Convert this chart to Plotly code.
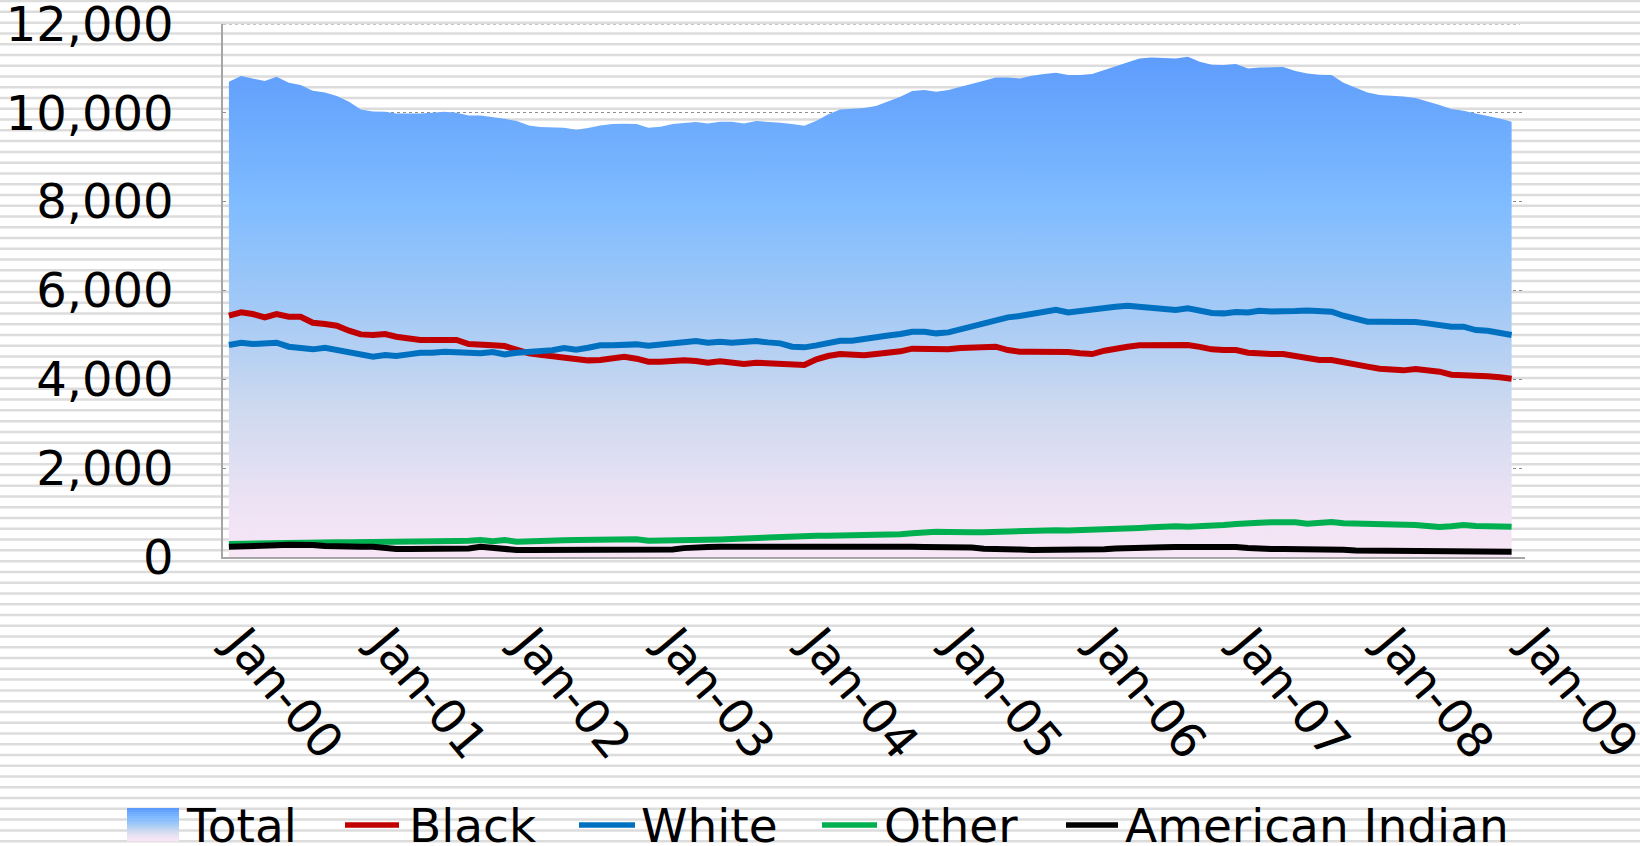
import pandas as pd
import plotly.graph_objects as go
from plotly.colors import sample_colorscale

months = pd.date_range("2000-01-01", periods=108, freq="MS")

total = [
    10700, 10827, 10775, 10715, 10813, 10677, 10625, 10497, 10460, 10377,
    10250, 10077, 10032, 10025, 9987, 9979, 9987, 10002, 10025, 10002,
    9942, 9942, 9912, 9867, 9814, 9717, 9679, 9680, 9664, 9619,
    9657, 9717, 9747, 9755, 9747, 9664, 9687, 9747, 9769, 9792,
    9762, 9800, 9800, 9762, 9815, 9800, 9777, 9747, 9709, 9822,
    9965, 10077, 10092, 10107, 10152, 10255, 10362, 10490, 10512, 10475,
    10512, 10587, 10647, 10722, 10797, 10797, 10775, 10835, 10872, 10902,
    10850, 10850, 10872, 10962, 11052, 11150, 11225, 11247, 11240, 11225,
    11262, 11150, 11080, 11075, 11097, 11000, 11022, 11030, 11030, 10940,
    10887, 10857, 10850, 10677, 10565, 10460, 10400, 10385, 10370, 10332,
    10257, 10175, 10085, 10047, 9987, 9935, 9875, 9800,
]

black = [
    5432, 5507, 5470, 5395, 5470, 5410, 5410, 5275, 5245, 5207,
    5095, 5012, 4997, 5020, 4960, 4922, 4885, 4885, 4885, 4885,
    4795, 4795, 4765, 4750, 4675, 4585, 4555, 4520, 4487, 4450,
    4427, 4435, 4480, 4510, 4465, 4397, 4397, 4427, 4427, 4412,
    4375, 4405, 4382, 4345, 4375, 4367, 4360, 4345, 4322, 4450,
    4525, 4570, 4547, 4540, 4570, 4590, 4630, 4690, 4690, 4660,
    4675, 4705, 4720, 4705, 4735, 4660, 4622, 4622, 4630, 4637,
    4615, 4585, 4570, 4645, 4697, 4735, 4765, 4765, 4742, 4742,
    4772, 4730, 4675, 4660, 4660, 4600, 4570, 4570, 4570, 4525,
    4450, 4435, 4435, 4375, 4330, 4285, 4240, 4232, 4202, 4232,
    4210, 4172, 4105, 4097, 4097, 4067, 4045, 4015,
]

white = [
    4772, 4825, 4795, 4795, 4825, 4735, 4697, 4675, 4712, 4660,
    4607, 4532, 4510, 4547, 4525, 4562, 4600, 4600, 4622, 4607,
    4585, 4585, 4615, 4562, 4600, 4615, 4622, 4655, 4705, 4667,
    4712, 4765, 4765, 4780, 4787, 4757, 4780, 4802, 4810, 4862,
    4825, 4847, 4825, 4832, 4862, 4832, 4810, 4735, 4720, 4765,
    4825, 4870, 4870, 4915, 4967, 4985, 5020, 5072, 5072, 5035,
    5057, 5125, 5185, 5260, 5350, 5395, 5425, 5470, 5522, 5567,
    5507, 5545, 5567, 5605, 5635, 5657, 5635, 5590, 5575, 5560,
    5597, 5545, 5495, 5485, 5515, 5507, 5545, 5530, 5522, 5537,
    5552, 5530, 5522, 5432, 5350, 5297, 5297, 5297, 5320, 5290,
    5260, 5207, 5185, 5185, 5110, 5095, 5050, 4997,
]

other = [
    293, 300, 300, 308, 315, 330, 338, 323, 323, 330,
    330, 330, 330, 338, 345, 353, 360, 360, 360, 360,
    368, 383, 353, 383, 345, 345, 353, 375, 375, 383,
    383, 398, 405, 405, 398, 368, 368, 375, 375, 380,
    390, 395, 405, 420, 425, 430, 445, 460, 475, 480,
    478, 482, 485, 480, 488, 500, 515, 535, 560, 570,
    565, 550, 555, 560, 570, 560, 575, 585, 590, 605,
    595, 600, 615, 625, 620, 640, 655, 670, 685, 690,
    680, 683, 698, 720, 743, 773, 773, 780, 788, 780,
    750, 780, 788, 758, 750, 750, 750, 758, 750, 720,
    698, 675, 690, 720, 698, 683, 683, 683,
]

american_indian = [
    233, 233, 240, 255, 263, 275, 278, 270, 250, 235,
    233, 233, 230, 200, 180, 180, 180, 180, 180, 180,
    190, 230, 200, 165, 158, 158, 158, 158, 158, 158,
    158, 158, 158, 158, 158, 158, 158, 170, 200, 222,
    225, 228, 230, 232, 235, 235, 236, 235, 233, 232,
    232, 230, 230, 232, 233, 232, 230, 228, 225, 226,
    224, 222, 215, 185, 170, 170, 168, 160, 158, 158,
    160, 162, 165, 175, 190, 205, 210, 215, 220, 225,
    230, 233, 230, 228, 225, 205, 185, 180, 180, 180,
    180, 180, 180, 165, 145, 145, 145, 145, 145, 145,
    145, 145, 145, 145, 145, 120, 120, 120,
]

year_ticks = pd.date_range("2000-01-01", "2009-01-01", freq="YS")
year_labels = [d.strftime("%b-%y") for d in year_ticks]
y_ticks = [0, 2000, 4000, 6000, 8000, 10000, 12000]

FONT = "DejaVu Sans"
W, H = 1640, 846
PL, PR, PT, PB = 223, 1525, 24, 557

# pixel -> paper helpers for the decoration / legend
def px_x(x):
    return (x - PL) / (PR - PL)

def px_y(y):
    return (PB - y) / (PB - PT)

area_scale = [
    [0.0, "#f8e6f6"],
    [0.12, "#ebe2f4"],
    [0.3, "#cdd9ef"],
    [0.5, "#a2c9f6"],
    [0.7, "#80bcff"],
    [1.0, "#5d9cfc"],
]

fig = go.Figure()

fig.add_trace(go.Scatter(
    x=months, y=total, name="Total", mode="lines",
    line=dict(width=0, color="#6aa6fc"),
    fill="tozeroy",
    fillgradient=dict(type="vertical", start=0, stop=11300, colorscale=area_scale),
))

series = [
    ("Black", black, "#c00000"),
    ("White", white, "#0070c0"),
    ("Other", other, "#00b050"),
    ("American Indian", american_indian, "#000000"),
]
for name, vals, col in series:
    fig.add_trace(go.Scatter(
        x=months, y=vals, name=name, mode="lines",
        line=dict(color=col, width=6),
    ))

shapes = []
# lined-paper background stripes across the whole picture
for k in range(80):
    ypx = 1.1 + 10.77 * k
    shapes.append(dict(
        type="line", xref="paper", yref="paper",
        x0=px_x(-10), x1=px_x(W + 10), y0=px_y(ypx), y1=px_y(ypx),
        line=dict(color="#dcdcdc", width=2.5), layer="below",
    ))
# top dotted gridline (plotly drops the one sitting on the plot edge)
shapes.append(dict(
    type="line", xref="paper", yref="y", x0=0, x1=px_x(1520), y0=12000, y1=12000,
    line=dict(color="#8c8c8c", width=1, dash="dot"), layer="below",
))

# hand-built legend
annotations = []
leg_y = 825
sw_top, sw_bot, n_sw = 808, 841, 16
sw_cols = sample_colorscale(area_scale, [1 - i / (n_sw - 1) for i in range(n_sw)])
step = (sw_bot - sw_top) / n_sw
for i, c in enumerate(sw_cols):
    shapes.append(dict(
        type="rect", xref="paper", yref="paper",
        x0=px_x(127), x1=px_x(179),
        y0=px_y(sw_top + i * step), y1=px_y(sw_top + (i + 1) * step + 0.5),
        fillcolor=c, line=dict(width=0), layer="above",
    ))
annotations.append(dict(
    text="Total", x=px_x(184), y=px_y(leg_y), xref="paper", yref="paper",
    xanchor="left", yanchor="middle", showarrow=False,
    font=dict(family=FONT, size=47, color="black"),
))
leg_items = [
    ("Black", "#c00000", 345, 399, 407),
    ("White", "#0070c0", 579, 635, 639),
    ("Other", "#00b050", 822, 877, 882),
    ("American Indian", "#000000", 1066, 1118, 1123),
]
for name, col, l0, l1, tx in leg_items:
    shapes.append(dict(
        type="line", xref="paper", yref="paper",
        x0=px_x(l0), x1=px_x(l1), y0=px_y(leg_y), y1=px_y(leg_y),
        line=dict(color=col, width=5.5), layer="above",
    ))
    annotations.append(dict(
        text=name, x=px_x(tx), y=px_y(leg_y), xref="paper", yref="paper",
        xanchor="left", yanchor="middle", showarrow=False,
        font=dict(family=FONT, size=47, color="black"),
    ))

fig.update_layout(
    width=W, height=H,
    margin=dict(l=PL, r=W - PR, t=PT, b=H - PB, autoexpand=False),
    paper_bgcolor="white",
    plot_bgcolor="rgba(0,0,0,0)",
    font=dict(family=FONT, size=48, color="black"),
    shapes=shapes,
    annotations=annotations,
    showlegend=False,
    xaxis=dict(
        type="date",
        range=["1999-12-17", "2009-01-04"],
        tickvals=year_ticks, ticktext=year_labels,
        tickangle=50, showgrid=False, zeroline=False,
        showline=True, linecolor="#a6a6a6", linewidth=1.5,
        ticks="", ticklabelstandoff=38, ticklabelshift=12,
        ticklabeloverflow="allow", automargin=False,
    ),
    yaxis=dict(
        range=[0, 12000], tickvals=y_ticks, tickformat=",",
        showgrid=True, gridcolor="#8c8c8c", gridwidth=1, griddash="dot",
        zeroline=False, showline=True, linecolor="#a6a6a6", linewidth=1.5,
        ticks="", ticklabelstandoff=38, ticklabeloverflow="allow",
        automargin=False,
    ),
)

fig.write_html(
    "out.html",
    config={"displayModeBar": False},
    post_script="document.body.style.margin='0';",
)
